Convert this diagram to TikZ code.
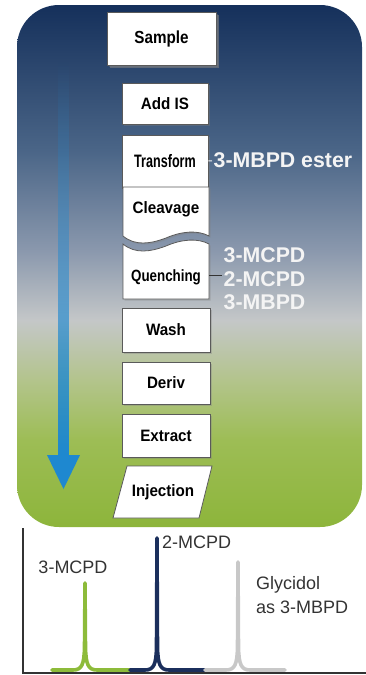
\documentclass[tikz,border=0pt]{standalone}
\usepackage{fontspec}
\setmainfont{Liberation Sans}
\newfontface\boxfont[FakeStretch=0.92]{Liberation Sans Bold}
\newfontface\samplefont[FakeStretch=0.87]{Liberation Sans Bold}
\newfontface\narrowfont[FakeStretch=0.70]{Liberation Sans Bold}
\newfontface\quenchfont[FakeStretch=0.82]{Liberation Sans Bold}
\usetikzlibrary{shadows,fadings}
\definecolor{bgnavy}{HTML}{15305B}
\definecolor{bgblue}{HTML}{4A6587}
\definecolor{bgslate}{HTML}{8A98AD}
\definecolor{bggray}{HTML}{C4C7C8}
\definecolor{bgsage}{HTML}{B3C48C}
\definecolor{bglime}{HTML}{9DBD55}
\definecolor{bggreen}{HTML}{8DB53B}
\definecolor{boxgray}{HTML}{5A5A5A}
\definecolor{arrowblue}{HTML}{1E88D0}
\definecolor{peakgreen}{HTML}{8DBB3A}
\definecolor{peaknavy}{HTML}{1B2F5C}
\definecolor{peakgray}{HTML}{C8C8C8}
\definecolor{labelwhite}{HTML}{F4F4F4}
\definecolor{chartink}{HTML}{333333}
\pgfdeclareverticalshading{panelshade}{100bp}{color(0bp)=(bggreen); color(25bp)=(bggreen);
  color(33.3bp)=(bglime); color(39.1bp)=(bgsage); color(44.8bp)=(bggray);
  color(51.5bp)=(bgslate); color(61.1bp)=(bgblue); color(75bp)=(bgnavy); color(100bp)=(bgnavy)}
\begin{document}
\begin{tikzpicture}[x=1pt, y=-1pt,
    stepbox/.style={draw=boxgray, fill=white, line width=0.8pt, minimum width=86pt,
      inner sep=0pt, font=\boxfont\fontsize{16.5}{18}\selectfont, text=black,
      drop shadow={shadow xshift=1.5pt, shadow yshift=-1.5pt, opacity=0.35}},
    steptext/.style={inner sep=0pt, font=\boxfont\fontsize{16.5}{18}\selectfont, text=black},
    whitelabel/.style={inner sep=1.5pt, text=labelwhite, font=\bfseries\fontsize{21.3}{23.5}\selectfont},
    chartlabel/.style={inner sep=0pt, text=chartink, font=\fontsize{18}{24}\selectfont},
    peak/.style={line width=3.6pt, line cap=round, line join=round}]
    \useasboundingbox (0,0) rectangle (366,675);
    % Фон
    \shade[shading=panelshade, rounded corners=42pt] (17,5) rectangle (362,527);
    % Стрелка
    \fill[arrowblue, path fading=north] (57.5,62) rectangle (68.5,456);
    \fill[arrowblue] (47,455) -- (80,455) -- (63.5,489) -- cycle;
    % Шаги
    \node[stepbox, minimum width=109pt, minimum height=53pt, font=\samplefont\fontsize{17.5}{19}\selectfont,
      drop shadow={shadow xshift=3pt, shadow yshift=-3pt, opacity=0.6}] (sample) at (161.5,38.5) {Sample};
    \node[stepbox, minimum height=41pt] (addis) at (165,103.5) {Add IS};
    \node[stepbox, minimum height=53pt, font=\narrowfont\fontsize{18}{19}\selectfont] (transform) at (165,161.5) {Transform};
    \filldraw[draw=boxgray, fill=white, line width=0.8pt, drop shadow={shadow xshift=1.5pt, shadow yshift=-1.5pt, opacity=0.35}]
      (123,187) -- (209,187) -- (209,236) .. controls (198,230) and (182,231) .. (166,238)
      .. controls (150,244) and (135,246) .. (123,236) -- cycle;
    \node[steptext] (cleavage) at (166,209) {Cleavage};
    \filldraw[draw=boxgray, fill=white, line width=0.8pt, drop shadow={shadow xshift=1.5pt, shadow yshift=-1.5pt, opacity=0.35}]
      (123,244) .. controls (135,254) and (150,252) .. (166,246)
      .. controls (182,239) and (198,238) .. (209,244) -- (209,299) -- (123,299) -- cycle;
    \node[steptext, font=\quenchfont\fontsize{16.3}{18}\selectfont] (quench) at (166,277) {Quenching};
    \coordinate (quench-e) at (209,275);
    \node[stepbox, minimum width=88pt, minimum height=44pt] (wash) at (166,330) {Wash};
    \node[stepbox, minimum width=88pt, minimum height=42pt] (deriv) at (166,383) {Deriv};
    \node[stepbox, minimum width=88pt, minimum height=43pt] (extract) at (166,435.5) {Extract};
    \filldraw[draw=boxgray, fill=white, line width=0.8pt] (127,466) -- (212,466) -- (199,518) -- (113,518) -- cycle;
    \node[steptext] (injection) at (163,492) {Injection};
    % Подписи
    \node[whitelabel, anchor=west] (ester) at (212,160) {3-MBPD ester};
    \draw[labelwhite, line width=1pt] (transform) -- (ester);
    \node[whitelabel, anchor=west, align=left] (products) at (222,279) {3-MCPD\\2-MCPD\\3-MBPD};
    \draw[chartink, line width=1pt] (quench-e) -- (quench-e -| products.west);
    % Хроматограмма
    \draw[chartink, line width=1.2pt] (23,528) -- (23,673) -- (366,673);
    \foreach \xa/\xp/\xb/\ytop/\col in {52/85/130/583/peakgreen, 130/157/205/538/peaknavy, 205/238/285/562/peakgray}
      \draw[peak, \col] (\xa,670) -- ({\xp-12},670) .. controls ({\xp-3},670) and ({\xp-1},664) .. ({\xp-0.5},648)
        -- (\xp,\ytop) -- ({\xp+0.5},648) .. controls ({\xp+1},664) and ({\xp+3},670) .. ({\xp+12},670) -- (\xb,670);
    \node[chartlabel] (mcpd3) at (73,567) {3-MCPD};
    \node[chartlabel, anchor=west] (mcpd2) at (162,542) {2-MCPD};
    \node[chartlabel, anchor=west, align=left] (glycidol) at (256,595) {Glycidol\\as 3-MBPD};
\end{tikzpicture}
\end{document}
